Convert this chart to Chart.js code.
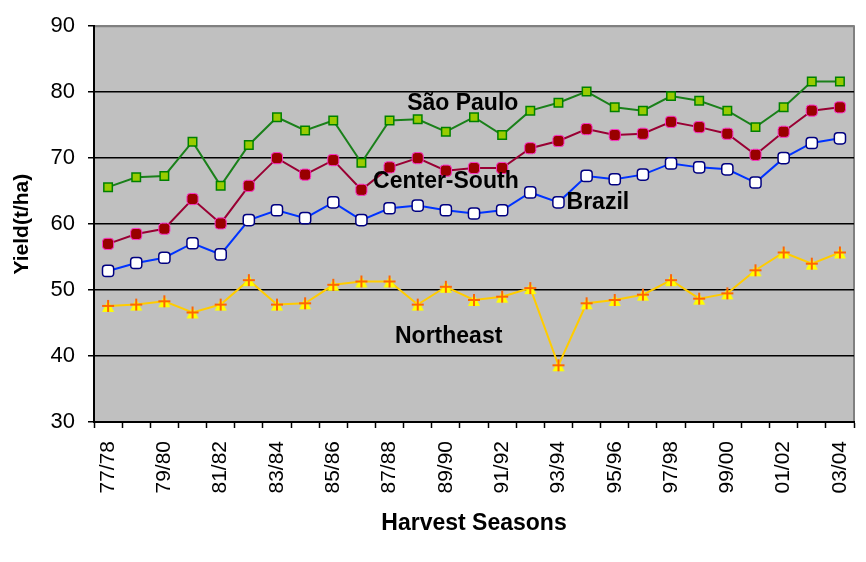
<!DOCTYPE html>
<html>
<head>
<meta charset="utf-8">
<script src="https://cdn.jsdelivr.net/npm/chart.js@4"></script>
<style>
  html, body { margin: 0; padding: 0; background: #fff; }
  #wrap { width: 866px; height: 562px; }
</style>
</head>
<body>
<div id="wrap"><canvas id="yieldChart" width="866" height="562"></canvas></div>
<script>
// Harvest seasons 77/78 .. 03/04
const seasons = ['77/78', '78/79', '79/80', '80/81', '81/82', '82/83', '83/84', '84/85', '85/86',
  '86/87', '87/88', '88/89', '89/90', '90/91', '91/92', '92/93', '93/94', '94/95', '95/96',
  '96/97', '97/98', '98/99', '99/00', '00/01', '01/02', '02/03', '03/04'];

// Yield (t/ha)
const saoPaulo = [65.6, 67.1, 67.3, 72.5, 65.8, 72.0, 76.2, 74.2, 75.7, 69.3, 75.7, 75.9, 74.0, 76.2,
  73.5, 77.2, 78.4, 80.1, 77.7, 77.2, 79.4, 78.7, 77.2, 74.7, 77.7, 81.6, 81.6];
const centerSouth = [57.0, 58.5, 59.3, 63.8, 60.1, 65.8, 70.0, 67.5, 69.7, 65.2, 68.6, 70.0, 68.1, 68.5,
  68.5, 71.5, 72.6, 74.4, 73.5, 73.7, 75.5, 74.7, 73.7, 70.5, 74.0, 77.2, 77.7];
const brazil = [52.9, 54.1, 54.9, 57.1, 55.4, 60.6, 62.1, 60.9, 63.3, 60.6, 62.4, 62.8, 62.1, 61.6,
  62.1, 64.8, 63.3, 67.3, 66.8, 67.5, 69.2, 68.6, 68.3, 66.3, 70.0, 72.3, 73.0];
const northeast = [47.6, 47.8, 48.3, 46.6, 47.8, 51.5, 47.8, 48.0, 50.8, 51.3, 51.3, 47.8, 50.5, 48.5,
  49.0, 50.3, 38.6, 48.0, 48.5, 49.3, 51.5, 48.7, 49.5, 53.0, 55.7, 54.0, 55.7];

const yTicks = [30, 40, 50, 60, 70, 80, 90];

// series names written inside the plot (category index, value)
const seriesLabels = [
  { text: 'São Paulo', at: 12.6, value: 78.2 },
  { text: 'Center-South', at: 12.0, value: 66.4 },
  { text: 'Brazil', at: 17.4, value: 63.2 },
  { text: 'Northeast', at: 12.1, value: 43.0 }
];

const FONT = 'Arial, "Liberation Sans", sans-serif';

// marker for Northeast: yellow triangle with an orange cross
function crossMarker() {
  const c = document.createElement('canvas');
  c.width = 14; c.height = 14;
  const g = c.getContext('2d');
  g.fillStyle = '#ffff00';
  g.beginPath();
  g.moveTo(7, 1); g.lineTo(13, 13); g.lineTo(1, 13); g.closePath();
  g.fill();
  g.strokeStyle = '#ff6600';
  g.lineWidth = 2;
  g.beginPath();
  g.moveTo(7, 1); g.lineTo(7, 13);
  g.moveTo(1, 7); g.lineTo(13, 7);
  g.stroke();
  return c;
}

const plotBackground = {
  id: 'plotBackground',
  beforeDraw(chart) {
    const { ctx, chartArea: a } = chart;
    ctx.save();
    ctx.fillStyle = '#c0c0c0';
    ctx.fillRect(a.left, a.top, a.right - a.left, a.bottom - a.top);
    ctx.strokeStyle = '#808080';
    ctx.lineWidth = 2;
    ctx.beginPath();
    ctx.moveTo(a.left, a.top);
    ctx.lineTo(a.right, a.top);
    ctx.lineTo(a.right, a.bottom);
    ctx.stroke();
    ctx.restore();
  }
};

const seriesNames = {
  id: 'seriesNames',
  afterDatasetsDraw(chart) {
    const { ctx, scales } = chart;
    ctx.save();
    ctx.font = 'bold 23px ' + FONT;
    ctx.fillStyle = '#000';
    ctx.textAlign = 'center';
    ctx.textBaseline = 'middle';
    seriesLabels.forEach(l => {
      ctx.fillText(l.text, scales.x.getPixelForValue(l.at), scales.y.getPixelForValue(l.value));
    });
    ctx.restore();
  }
};

const ctx = document.getElementById('yieldChart').getContext('2d');
new Chart(ctx, {
  type: 'line',
  data: {
    labels: seasons,
    datasets: [
      {
        label: 'Northeast',
        data: northeast,
        borderColor: '#ffcc00',
        borderWidth: 2,
        pointStyle: crossMarker(),
        pointRadius: 6
      },
      {
        label: 'Brazil',
        data: brazil,
        borderColor: '#0033ff',
        borderWidth: 2,
        pointStyle: 'rectRounded',
        pointRadius: 6.5,
        pointBackgroundColor: '#ffffff',
        pointBorderColor: '#000080',
        pointBorderWidth: 1.5
      },
      {
        label: 'Center-South',
        data: centerSouth,
        borderColor: '#990033',
        borderWidth: 2,
        pointStyle: 'rectRounded',
        pointRadius: 6.5,
        pointBackgroundColor: '#990000',
        pointBorderColor: '#ff33cc',
        pointBorderWidth: 1
      },
      {
        label: 'São Paulo',
        data: saoPaulo,
        borderColor: '#1a801a',
        borderWidth: 2,
        pointStyle: 'rect',
        pointRadius: 6,
        pointBackgroundColor: '#99cc00',
        pointBorderColor: '#008000',
        pointBorderWidth: 1.5
      }
    ]
  },
  options: {
    responsive: false,
    animation: false,
    layout: { padding: { top: 26, right: 12, left: 0, bottom: 0 } },
    plugins: {
      legend: { display: false },
      tooltip: { enabled: false }
    },
    scales: {
      x: {
        offset: true,
        afterFit: scale => {
          scale.height = 140;
          scale.paddingLeft = 0;
          scale.paddingRight = 0;
        },
        grid: {
          offset: true,
          drawOnChartArea: false,
          tickLength: 6,
          tickColor: '#000',
          tickWidth: 1.5
        },
        border: { color: '#000', width: 2 },
        ticks: {
          autoSkip: false,
          maxRotation: 90,
          minRotation: 90,
          padding: 13,
          color: '#000',
          font: { family: FONT, size: 21 },
          callback: function(value, index) {
            return index % 2 === 0 ? seasons[index] : '';
          }
        },
        title: {
          display: true,
          text: 'Harvest Seasons',
          color: '#000',
          font: { family: FONT, size: 23, weight: 'bold' },
          padding: { top: 0, bottom: 25 }
        }
      },
      y: {
        min: 30,
        max: 90,
        afterFit: scale => { scale.width = 94; },
        afterBuildTicks: scale => { scale.ticks = yTicks.map(v => ({ value: v })); },
        grid: {
          color: c => (c.tick && c.tick.value === 90 ? '#808080' : '#000'),
          lineWidth: 1.5,
          tickLength: 6,
          tickColor: '#000'
        },
        border: { color: '#000', width: 2 },
        ticks: {
          padding: 13,
          color: '#000',
          font: { family: FONT, size: 22 }
        },
        title: {
          display: true,
          text: 'Yield(t/ha)',
          color: '#000',
          font: { family: FONT, size: 21, weight: 'bold' },
          padding: { top: 10, bottom: 0 }
        }
      }
    }
  },
  plugins: [plotBackground, seriesNames]
});
</script>
</body>
</html>
